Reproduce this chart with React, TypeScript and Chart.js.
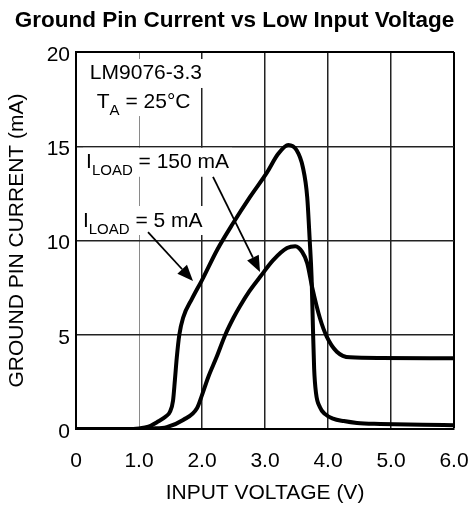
import React, { useEffect, useRef } from 'react';
import { Chart, registerables } from 'chart.js';

Chart.register(...registerables);

const FONT = '"Liberation Sans", Arial, Helvetica, sans-serif';

const TITLE = 'Ground Pin Current vs Low Input Voltage';
const X_TITLE = 'INPUT VOLTAGE (V)';
const Y_TITLE = 'GROUND PIN CURRENT (mA)';

const X_TICKS = [0, 1, 2, 3, 4, 5, 6];
const X_TICK_LABELS = ['0', '1.0', '2.0', '3.0', '4.0', '5.0', '6.0'];
const Y_TICKS = [0, 5, 10, 15, 20];
const Y_TICK_LABELS = ['0', '5', '10', '15', '20'];

// Curve reaching ~15 mA (arrow from "I_LOAD = 5 mA" label points to it)
const UPPER_V = [0, 0.8, 1.0, 1.15, 1.29, 1.42, 1.49, 1.54, 1.57, 1.6, 1.64, 1.7, 1.84, 2.0, 2.24, 2.49, 2.76, 3.03, 3.21, 3.37, 3.5, 3.6, 3.67, 3.71, 3.74, 3.76, 3.78, 3.81, 3.87, 3.95, 4.08, 4.25, 4.46, 4.83, 5.5, 6.0];
const UPPER_I = [0, 0, 0.03, 0.12, 0.37, 0.65, 0.9, 1.5, 2.6, 3.8, 5.0, 5.9, 6.9, 7.9, 9.5, 10.9, 12.3, 13.6, 14.6, 15.07, 14.8, 13.9, 12.3, 10.0, 8.0, 5.5, 3.2, 1.9, 1.17, 0.8, 0.55, 0.42, 0.32, 0.27, 0.22, 0.2];

// Curve reaching ~9.7 mA (arrow from "I_LOAD = 150 mA" label points to it)
const LOWER_V = [0, 1.0, 1.2, 1.44, 1.7, 1.92, 2.0, 2.1, 2.23, 2.37, 2.5, 2.6, 2.75, 2.92, 3.13, 3.35, 3.48, 3.59, 3.67, 3.75, 3.87, 3.98, 4.14, 4.35, 4.83, 6.0];
const LOWER_I = [0, 0, 0.03, 0.1, 0.48, 1.1, 1.8, 2.76, 3.8, 5.0, 5.9, 6.5, 7.3, 8.06, 8.96, 9.6, 9.7, 9.4, 8.8, 7.5, 5.9, 4.9, 4.1, 3.8, 3.77, 3.75];

// Text annotations (main text, subscript, rest) anchored in data units
const LABELS = [
  { main: 'LM9076-3.3', sub: '', rest: '', v: 0.22, i: 18.94 },
  { main: 'T', sub: 'A', rest: ' = 25°C', v: 0.33, i: 17.45 },
  { main: 'I', sub: 'LOAD', rest: ' = 150 mA', v: 0.16, i: 14.23 },
  { main: 'I', sub: 'LOAD', rest: ' = 5 mA', v: 0.11, i: 11.14 },
];

// Arrows: [fromV, fromI, toV, toI]
const ARROWS = [
  [1.143, 10.45, 1.857, 7.85],
  [2.175, 13.37, 2.921, 8.33],
];

const annotationPlugin = {
  id: 'annotations',
  beforeDatasetsDraw(chart: any) {
    const { ctx, scales } = chart;
    const xs = scales.x;
    const ys = scales.y;
    ctx.save();
    for (const lab of LABELS) {
      const px = xs.getPixelForValue(lab.v);
      const py = ys.getPixelForValue(lab.i);
      const base = py + 7.5;
      ctx.font = `21px ${FONT}`;
      const wMain = ctx.measureText(lab.main).width;
      const wRest = ctx.measureText(lab.rest).width;
      ctx.font = `15px ${FONT}`;
      const wSub = ctx.measureText(lab.sub).width;
      const total = wMain + wSub + wRest;
      ctx.fillStyle = '#fff';
      ctx.fillRect(px - 3, py - 13, total + 6, 29);
      ctx.fillStyle = '#000';
      ctx.textBaseline = 'alphabetic';
      ctx.textAlign = 'left';
      ctx.font = `21px ${FONT}`;
      ctx.fillText(lab.main, px, base);
      if (lab.sub) {
        ctx.font = `15px ${FONT}`;
        ctx.fillText(lab.sub, px + wMain, base + 7);
      }
      if (lab.rest) {
        ctx.font = `21px ${FONT}`;
        ctx.fillText(lab.rest, px + wMain + wSub, base);
      }
    }
    ctx.restore();
  },
  afterDatasetsDraw(chart: any) {
    const { ctx, scales } = chart;
    const xs = scales.x;
    const ys = scales.y;
    ctx.save();
    ctx.strokeStyle = '#000';
    ctx.fillStyle = '#000';
    ctx.lineWidth = 1.8;
    for (const a of ARROWS) {
      const x1 = xs.getPixelForValue(a[0]);
      const y1 = ys.getPixelForValue(a[1]);
      const x2 = xs.getPixelForValue(a[2]);
      const y2 = ys.getPixelForValue(a[3]);
      const ang = Math.atan2(y2 - y1, x2 - x1);
      const hl = 16;
      const hw = 6.5;
      const bx = x2 - hl * Math.cos(ang);
      const by = y2 - hl * Math.sin(ang);
      ctx.beginPath();
      ctx.moveTo(x1, y1);
      ctx.lineTo(bx, by);
      ctx.stroke();
      ctx.beginPath();
      ctx.moveTo(x2, y2);
      ctx.lineTo(bx + hw * Math.sin(ang), by - hw * Math.cos(ang));
      ctx.lineTo(bx - hw * Math.sin(ang), by + hw * Math.cos(ang));
      ctx.closePath();
      ctx.fill();
    }
    ctx.restore();
  },
};

const toPoints = (vs: number[], is: number[]) => vs.map((v, k) => ({ x: v, y: is[k] }));

export default function App() {
  const ref = useRef<HTMLCanvasElement>(null);
  useEffect(() => {
    if (!ref.current) return;
    const chart = new Chart(ref.current, {
      type: 'line',
      data: {
        datasets: [
          {
            label: 'I_LOAD = 5 mA',
            data: toPoints(UPPER_V, UPPER_I),
            borderColor: '#000',
            borderWidth: 4,
            pointRadius: 0,
            fill: false,
            cubicInterpolationMode: 'monotone',
          },
          {
            label: 'I_LOAD = 150 mA',
            data: toPoints(LOWER_V, LOWER_I),
            borderColor: '#000',
            borderWidth: 4,
            pointRadius: 0,
            fill: false,
            cubicInterpolationMode: 'monotone',
          },
        ],
      },
      options: {
        responsive: false,
        animation: false,
        devicePixelRatio: 1,
        layout: { padding: { left: 0, right: 0, top: 0, bottom: 0 } },
        plugins: {
          legend: { display: false },
          tooltip: { enabled: false },
          title: {
            display: true,
            text: TITLE,
            color: '#000',
            font: { family: FONT, size: 22.5, weight: 'bold', lineHeight: 1.2 },
            padding: { top: 7, bottom: 18 },
          },
        },
        scales: {
          x: {
            type: 'linear',
            min: 0,
            max: 6,
            afterFit: (s: any) => {
              s.height = 77;
              s.paddingLeft = 0;
              s.paddingRight = 15;
            },
            afterBuildTicks: (s: any) => {
              s.ticks = X_TICKS.map((v) => ({ value: v }));
            },
            ticks: {
              color: '#000',
              font: { family: FONT, size: 21 },
              padding: 20,
              maxRotation: 0,
              autoSkip: false,
              callback: (value: any) => X_TICK_LABELS[X_TICKS.indexOf(Number(value))] ?? '',
            },
            grid: {
              drawTicks: false,
              color: (c: any) => (c.tick && c.tick.value === 1 ? '#8a8a8a' : c.tick && c.tick.value === 6 ? '#000' : '#222'),
              lineWidth: (c: any) => (c.tick && c.tick.value === 1 ? 1 : c.tick && c.tick.value === 6 ? 2 : 1.5),
            },
            border: { display: true, color: '#000', width: 2 },
            title: {
              display: true,
              text: X_TITLE,
              color: '#000',
              font: { family: FONT, size: 21, lineHeight: 1.2 },
              padding: { top: 0, bottom: 0 },
            },
          },
          y: {
            type: 'linear',
            min: 0,
            max: 20,
            afterFit: (s: any) => {
              s.width = 76;
              s.paddingTop = 0;
              s.paddingBottom = 0;
            },
            afterBuildTicks: (s: any) => {
              s.ticks = Y_TICKS.map((v) => ({ value: v }));
            },
            ticks: {
              color: '#000',
              font: { family: FONT, size: 21 },
              padding: 6,
              labelOffset: 3,
              callback: (value: any) => Y_TICK_LABELS[Y_TICKS.indexOf(Number(value))] ?? '',
            },
            grid: {
              drawTicks: false,
              color: (c: any) => (c.tick && c.tick.value === 20 ? '#000' : '#222'),
              lineWidth: (c: any) => (c.tick && c.tick.value === 20 ? 2 : 1.5),
            },
            border: { display: true, color: '#000', width: 2 },
            title: {
              display: true,
              text: Y_TITLE,
              color: '#000',
              font: { family: FONT, size: 21, lineHeight: 1.2 },
              padding: { top: 5, bottom: 0 },
            },
          },
        },
      } as any,
      plugins: [annotationPlugin],
    });
    return () => chart.destroy();
  }, []);
  return (
    <div style={{ position: 'absolute', left: 0, top: 0, width: 469, height: 506, background: '#fff' }}>
      <canvas ref={ref} width={469} height={506} style={{ width: 469, height: 506, display: 'block' }} />
    </div>
  );
}
